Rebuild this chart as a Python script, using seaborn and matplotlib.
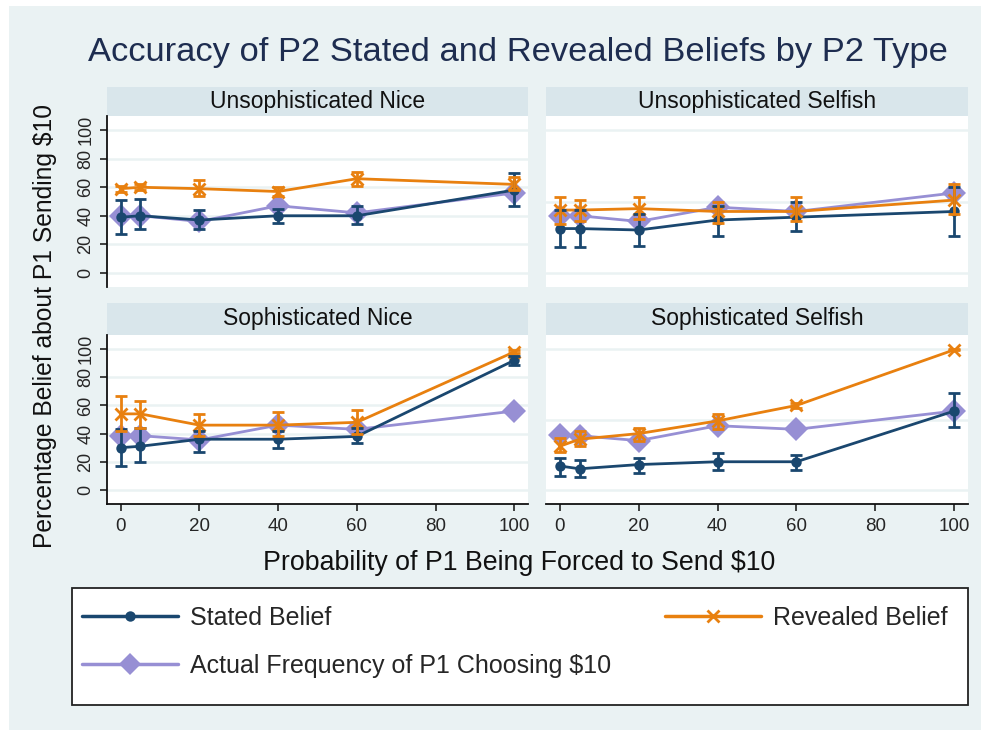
import numpy as np
import pandas as pd
import matplotlib.pyplot as plt
import seaborn as sns
from matplotlib.lines import Line2D
from matplotlib.patches import Rectangle

# forced-send probabilities (x axis)
prob = [0, 5, 20, 40, 60, 100]

panel_titles = ["Unsophisticated Nice", "Unsophisticated Selfish",
                "Sophisticated Nice", "Sophisticated Selfish"]

# stated belief (mean, lower, upper) per panel
stated = [[39, 40, 37, 40, 40, 58],
          [31, 31, 30, 37, 39, 43],
          [30, 31, 36, 36, 38, 92],
          [17, 15, 18, 20, 20, 56]]
stated_lo = [[27, 31, 31, 35, 34, 47],
             [18, 18, 19, 26, 29, 26],
             [17, 20, 27, 30, 33, 89],
             [10, 9, 12, 14, 14, 45]]
stated_hi = [[51, 52, 44, 45, 47, 70],
             [44, 44, 41, 47, 50, 60],
             [43, 44, 42, 42, 44, 95],
             [23, 21, 23, 26, 25, 69]]

# revealed belief (mean, lower, upper) per panel
revealed = [[59, 60, 59, 57, 66, 62],
            [44, 44, 45, 43, 43, 51],
            [54, 54, 46, 46, 48, 98],
            [31, 36, 40, 49, 60, 99.5]]
revealed_lo = [[57, 58, 54, 54, 61, 58],
               [34, 36, 38, 35, 36, 41],
               [42, 44, 38, 38, 40, 97],
               [27, 31, 35, 43, 58.5, 99]]
revealed_hi = [[61, 62, 65, 60, 71, 67],
               [53, 51, 53, 50, 53, 62],
               [67, 63, 54, 55, 57, 99.5],
               [37, 42, 44, 54, 61.5, 100]]

# actual frequency of P1 choosing $10
actual = [[40, 40, 36, 47, 42, 56],
          [40, 40, 36, 46, 43, 56],
          [38.5, 38.5, 35.5, 46, 43, 56],
          [39, 38.5, 35, 45.6, 43, 56]]

c_stated = "#1a476f"
c_revealed = "#e8800f"
c_actual = "#978fd4"
bg = "#eaf2f3"
strip_col = "#d9e6eb"

sns.set_style("white")
plt.rcParams['font.family'] = ['Liberation Sans', 'DejaVu Sans']

W, H = 990, 736
fig = plt.figure(figsize=(9.9, 7.36), dpi=100, facecolor="white")
fig.patches.append(Rectangle((9 / W, 1 - 730 / H), 972 / W, 724 / H,
                             transform=fig.transFigure, facecolor=bg,
                             edgecolor="none", zorder=-10))


def box(x0, y0, x1, y1):
    # pixel box (top-left origin) -> figure fraction rect
    return [x0 / W, 1 - y1 / H, (x1 - x0) / W, (y1 - y0) / H]


cols = [(107, 528), (546, 968)]
rows = [(87, 116, 287), (303, 335, 504)]

for i in range(4):
    r, c = divmod(i, 2)
    x0, x1 = cols[c]
    s0, p0, p1 = rows[r]

    strip = fig.add_axes(box(x0, s0, x1, p0))
    strip.set_facecolor(strip_col)
    strip.set_xticks([])
    strip.set_yticks([])
    for sp in strip.spines.values():
        sp.set_visible(False)
    strip.text(0.5, 0.5, panel_titles[i], ha="center", va="center",
               fontsize=16.5, color="#111111", transform=strip.transAxes)

    ax = fig.add_axes(box(x0, p0, x1, p1))
    ax.set_facecolor("white")

    df = pd.DataFrame({"prob": prob, "stated": stated[i],
                       "revealed": revealed[i], "actual": actual[i]})

    sns.lineplot(data=df, x="prob", y="actual", color=c_actual, marker="D",
                 markersize=12, markeredgewidth=0, linewidth=2,
                 ax=ax, zorder=3)
    sns.lineplot(data=df, x="prob", y="stated", color=c_stated, marker="o",
                 markersize=7.5, markeredgewidth=0, linewidth=2,
                 ax=ax, zorder=4)
    sns.lineplot(data=df, x="prob", y="revealed", color=c_revealed, marker="x",
                 markersize=8, markeredgecolor=c_revealed, markeredgewidth=2,
                 linewidth=2, ax=ax, zorder=4)

    s = np.array(stated[i])
    ax.errorbar(prob, s, yerr=[s - np.array(stated_lo[i]), np.array(stated_hi[i]) - s],
                fmt="none", ecolor=c_stated, elinewidth=2, capsize=4,
                capthick=2, zorder=5)
    rv = np.array(revealed[i])
    ax.errorbar(prob, rv, yerr=[rv - np.array(revealed_lo[i]), np.array(revealed_hi[i]) - rv],
                fmt="none", ecolor=c_revealed, elinewidth=2, capsize=4,
                capthick=2, zorder=5)

    ax.set_xlim(-3.5, 103.5)
    ax.set_ylim(-10, 110)
    ax.set_xlabel("")
    ax.set_ylabel("")

    if c == 0:
        ax.set_yticks([0, 20, 40, 60, 80, 100])
        ax.tick_params(axis="y", length=5, width=1.2, color="#222222",
                       labelsize=13, pad=4, labelrotation=90, left=True)
        for lab in ax.get_yticklabels():
            lab.set_va("center")
        ax.spines["left"].set_color("#111111")
        ax.spines["left"].set_linewidth(1.3)
    else:
        ax.set_yticks([0, 50, 100])
        ax.tick_params(axis="y", length=0, labelleft=False)
        ax.spines["left"].set_visible(False)
    ax.yaxis.grid(True, color=bg, linewidth=1.8)
    ax.set_axisbelow(True)

    if r == 1:
        ax.set_xticks([0, 20, 40, 60, 80, 100])
        ax.tick_params(axis="x", length=5, width=1.2, color="#222222",
                       labelsize=13.5, pad=5, bottom=True)
        ax.spines["bottom"].set_color("#111111")
        ax.spines["bottom"].set_linewidth(1.3)
    else:
        ax.set_xticks([])
        ax.spines["bottom"].set_visible(False)
    ax.spines["top"].set_visible(False)
    ax.spines["right"].set_visible(False)

fig.text(518 / W, 1 - 52 / H, "Accuracy of P2 Stated and Revealed Beliefs by P2 Type",
         ha="center", va="center", fontsize=24.8, color="#1e2d50")
fig.text(519 / W, 1 - 563 / H, "Probability of P1 Being Forced to Send $10",
         ha="center", va="center", fontsize=19.3, color="#111111")
fig.text(45 / W, 1 - 326 / H, "Percentage Belief about P1 Sending $10",
         ha="center", va="center", rotation=90, fontsize=17.7, color="#111111")

# legend box
fig.patches.append(Rectangle((72 / W, 1 - 705 / H), 896 / W, 117 / H,
                             transform=fig.transFigure, facecolor="white",
                             edgecolor="#222222", linewidth=1.3, zorder=1))
h_stated = Line2D([], [], color=c_stated, marker="o", markersize=7.5,
                  markeredgewidth=0, linewidth=2.5)
h_revealed = Line2D([], [], color=c_revealed, marker="x", markersize=8,
                    markeredgewidth=2, linewidth=2.5)
h_actual = Line2D([], [], color=c_actual, marker="D", markersize=11,
                  markeredgewidth=0, linewidth=2.5)
leg = fig.legend(handles=[h_stated, h_actual, h_revealed],
                 labels=["Stated Belief", "Actual Frequency of P1 Choosing $10",
                         "Revealed Belief"],
                 ncol=2, mode="expand", loc="upper left",
                 bbox_to_anchor=(82 / W, 1 - 613 / H, 866 / W, 0.01),
                 frameon=False, fontsize=18, handlelength=3.85,
                 handletextpad=0.48, labelspacing=0.96, borderpad=0,
                 borderaxespad=0)
leg.set_zorder(2)

fig.savefig("out.png", dpi=100, facecolor="white")
